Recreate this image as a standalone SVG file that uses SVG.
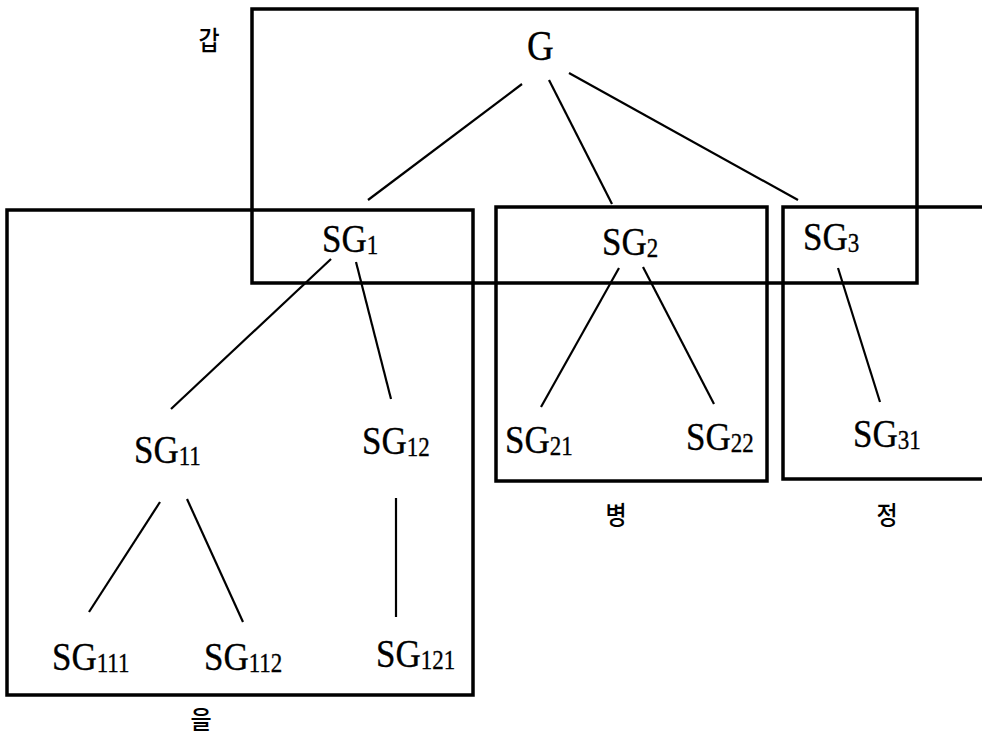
<svg xmlns="http://www.w3.org/2000/svg" width="982" height="735" viewBox="0 0 982 735">
<style>
.box{fill:none;stroke:#000;stroke-width:3.5}
.edge{stroke:#000;stroke-width:2.2;fill:none}
.lbl{font-family:"Liberation Serif","Times New Roman",serif;font-size:35px;fill:#000;stroke:#000;stroke-width:0.3}
.sub{font-size:23px}
.kr{font-family:"Noto Sans CJK KR","Noto Sans",sans-serif;font-size:23px;font-weight:500;fill:#000;text-anchor:middle}
</style>
<rect width="982" height="735" fill="#fff"/>
<g id="regions">
<g id="region-gap"><rect class="box" x="252" y="9" width="665" height="274"/><text class="kr" transform="translate(209,50) scale(1,1.12)">갑</text></g>
<g id="region-eul"><rect class="box" x="7" y="210" width="466" height="485"/><text class="kr" transform="translate(201,729) scale(1,1.08)">을</text></g>
<g id="region-byeong"><rect class="box" x="496" y="207" width="271" height="274"/><text class="kr" transform="translate(616,525) scale(1,1.12)">병</text></g>
<g id="region-jeong"><path class="box" d="M986 207 H783 V479 H986"/><text class="kr" transform="translate(887,525) scale(1,1.12)">정</text></g>
</g>
<g id="connectors">
<line class="edge" x1="522" y1="84" x2="368" y2="200"/>
<line class="edge" x1="549" y1="80" x2="612" y2="204"/>
<line class="edge" x1="569" y1="73" x2="798" y2="200"/>
<line class="edge" x1="331" y1="259" x2="171" y2="409"/>
<line class="edge" x1="356" y1="262" x2="391" y2="399"/>
<line class="edge" x1="619" y1="268" x2="541" y2="407"/>
<line class="edge" x1="643" y1="267" x2="714" y2="404"/>
<line class="edge" x1="838" y1="268" x2="880" y2="402"/>
<line class="edge" x1="160" y1="502" x2="89" y2="612"/>
<line class="edge" x1="187" y1="499" x2="243" y2="622"/>
<line class="edge" x1="396" y1="498" x2="396" y2="617"/>
</g>
<g id="nodes">
<g id="G"><text class="lbl" style="font-size:37px" transform="translate(527,60) scale(1,1.15)">G</text></g>
<g id="SG1"><text class="lbl" transform="translate(322,252) scale(1,1.15)">SG<tspan class="sub" dy="2">1</tspan></text></g>
<g id="SG2"><text class="lbl" transform="translate(602,255) scale(1,1.15)">SG<tspan class="sub" dy="2">2</tspan></text></g>
<g id="SG3"><text class="lbl" transform="translate(803,250) scale(1,1.15)">SG<tspan class="sub" dy="2">3</tspan></text></g>
<g id="SG11"><text class="lbl" transform="translate(134,463) scale(1,1.15)">SG<tspan class="sub" dy="2">11</tspan></text></g>
<g id="SG12"><text class="lbl" transform="translate(362,454) scale(1,1.15)">SG<tspan class="sub" dy="2">12</tspan></text></g>
<g id="SG21"><text class="lbl" transform="translate(505,453) scale(1,1.15)">SG<tspan class="sub" dy="2">21</tspan></text></g>
<g id="SG22"><text class="lbl" transform="translate(686,450) scale(1,1.15)">SG<tspan class="sub" dy="2">22</tspan></text></g>
<g id="SG31"><text class="lbl" transform="translate(853,447) scale(1,1.15)">SG<tspan class="sub" dy="2">31</tspan></text></g>
<g id="SG111"><text class="lbl" transform="translate(52,670) scale(1,1.15)">SG<tspan class="sub" dy="2">111</tspan></text></g>
<g id="SG112"><text class="lbl" transform="translate(204,670) scale(1,1.15)">SG<tspan class="sub" dy="2">112</tspan></text></g>
<g id="SG121"><text class="lbl" transform="translate(376,667) scale(1,1.15)">SG<tspan class="sub" dy="2">121</tspan></text></g>
</g>
</svg>
